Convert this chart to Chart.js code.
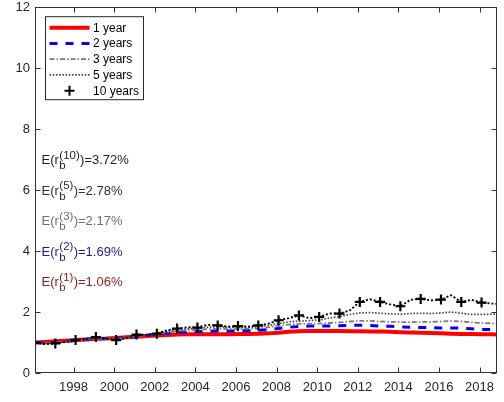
<!DOCTYPE html>
<html><head><meta charset="utf-8">
<script src="https://cdn.jsdelivr.net/npm/chart.js@4.4.1/dist/chart.umd.min.js"></script>
<style>html,body{margin:0;padding:0;background:#fff}#wrap{width:504px;height:402px}</style>
</head><body><div id="wrap"><canvas id="c" width="504" height="402"></canvas></div>
<script>
const years = [1996.1,1996.6,1997.1,1997.6,1998.1,1998.6,1999.1,1999.6,2000.1,2000.6,2001.1,2001.6,2002.1,2002.6,2003.1,2003.6,2004.1,2004.6,2005.1,2005.6,2006.1,2006.6,2007.1,2007.6,2008.1,2008.6,2009.1,2009.6,2010.1,2010.6,2011.1,2011.6,2012.1,2012.6,2013.1,2013.6,2014.1,2014.6,2015.1,2015.6,2016.1,2016.6,2017.1,2017.6,2018.1,2018.6,2018.85];
const r1 = [1.00,1.02,1.04,1.06,1.08,1.10,1.12,1.13,1.15,1.17,1.19,1.21,1.23,1.25,1.26,1.27,1.27,1.27,1.27,1.27,1.28,1.28,1.29,1.30,1.32,1.35,1.37,1.38,1.38,1.38,1.38,1.37,1.37,1.36,1.36,1.35,1.34,1.33,1.32,1.31,1.30,1.29,1.28,1.28,1.27,1.27,1.26];
const r2 = [1.00,0.99,1.01,1.04,1.07,1.10,1.12,1.13,1.14,1.17,1.20,1.24,1.27,1.30,1.33,1.35,1.36,1.37,1.38,1.38,1.38,1.39,1.40,1.42,1.46,1.50,1.53,1.54,1.54,1.54,1.55,1.56,1.57,1.56,1.54,1.53,1.51,1.50,1.49,1.49,1.48,1.48,1.47,1.45,1.43,1.43,1.43];
const r3 = [0.99,0.98,1.00,1.03,1.06,1.10,1.13,1.13,1.13,1.16,1.21,1.25,1.28,1.33,1.37,1.40,1.41,1.44,1.45,1.44,1.44,1.45,1.46,1.50,1.55,1.59,1.61,1.62,1.62,1.64,1.66,1.69,1.71,1.71,1.69,1.68,1.67,1.67,1.68,1.68,1.69,1.71,1.69,1.66,1.64,1.63,1.63];
const r5 = [0.98,0.96,0.98,1.02,1.06,1.10,1.14,1.13,1.12,1.16,1.22,1.26,1.30,1.38,1.42,1.45,1.46,1.50,1.52,1.50,1.50,1.50,1.52,1.56,1.62,1.68,1.70,1.72,1.74,1.80,1.85,1.92,1.97,1.98,1.96,1.94,1.93,1.95,1.96,1.95,1.97,2.00,1.96,1.92,1.92,1.93,1.93];
const r10 = [0.99,0.95,0.97,1.02,1.08,1.12,1.18,1.13,1.08,1.15,1.26,1.25,1.29,1.40,1.46,1.50,1.49,1.58,1.56,1.52,1.54,1.52,1.56,1.62,1.73,1.80,1.89,1.80,1.84,1.95,1.95,2.05,2.33,2.42,2.33,2.25,2.19,2.40,2.43,2.38,2.41,2.55,2.33,2.40,2.31,2.28,2.27];
const markerYears = [1996.1,1997.1,1998.1,1999.1,2000.1,2001.1,2002.1,2003.1,2004.1,2005.1,2006.1,2007.1,2008.1,2009.1,2010.1,2011.1,2012.1,2013.1,2014.1,2015.1,2016.1,2017.1,2018.1];
const xTickYears = [1998,2000,2002,2004,2006,2008,2010,2012,2014,2016,2018];
const yTickValues = [0,2,4,6,8,10,12];
const seriesNames = ['1 year','2 years','3 years','5 years','10 years'];
const annoSup = ['(10)','(5)','(3)','(2)','(1)'];
const annoVal = ['3.72%','2.78%','2.17%','1.69%','1.06%'];
const annoY = [7,6,5,4,3];
const annoColors = ['#1e1e1e','#303030','#6e6e6e','#1c1c96','#8e1a1a'];

const pts = arr => arr.map((v,i)=>({x:years[i], y:v}));
const FONT = "'Liberation Sans', Arial, Helvetica, sans-serif";

const styles = [
  {color:'#ff0000', width:4, dash:[]},
  {color:'#0000ff', width:3, dash:[8,8]},
  {color:'#7a7a7a', width:1.8, dash:[5,2,1.5,2]},
  {color:'#4a4a4a', width:1.7, dash:[1.6,1.6]},
  {color:'#000000', width:1.9, dash:[2,2]}
];

const frame = {
  id:'frame',
  afterDatasetsDraw(chart){
    const {ctx, chartArea:a, scales:{x, y}} = chart;
    ctx.save();
    for (let i=0;i<annoSup.length;i++){
      const x0 = x.getPixelForValue(1996.42);
      const base = y.getPixelForValue(annoY[i]) + 4.8;
      ctx.fillStyle = annoColors[i];
      ctx.textBaseline = 'alphabetic'; ctx.textAlign='left';
      ctx.font = `13px ${FONT}`;
      ctx.fillText('E(r', x0, base);
      let xx = x0 + ctx.measureText('E(r').width;
      ctx.font = `11.5px ${FONT}`;
      ctx.fillText(annoSup[i], xx+0.5, base-5.5);
      ctx.fillText('b', xx+0.5, base+5);
      const w = Math.max(ctx.measureText(annoSup[i]).width, ctx.measureText('b').width);
      xx += w + 0.8;
      ctx.font = `13px ${FONT}`;
      ctx.fillText(')=' + annoVal[i], xx, base);
    }
    const bx = a.left + 10.5, by = a.top + 9.5, bw = 98, bh = 83;
    ctx.fillStyle = '#fff';
    ctx.fillRect(bx, by, bw, bh);
    ctx.strokeStyle = '#262626'; ctx.lineWidth = 1; ctx.setLineDash([]);
    ctx.strokeRect(bx, by, bw, bh);
    for (let i=0;i<seriesNames.length;i++){
      const cy = by + 11 + 15.75*i;
      const s = styles[i];
      if (i < 4){
        ctx.beginPath();
        ctx.strokeStyle = s.color; ctx.lineWidth = s.width; ctx.setLineDash(s.dash);
        ctx.moveTo(bx+4, cy); ctx.lineTo(bx+44, cy); ctx.stroke();
      } else {
        ctx.setLineDash([]); ctx.strokeStyle='#000'; ctx.lineWidth=2;
        ctx.beginPath();
        ctx.moveTo(bx+24-5, cy); ctx.lineTo(bx+24+5, cy);
        ctx.moveTo(bx+24, cy-5); ctx.lineTo(bx+24, cy+5); ctx.stroke();
      }
      ctx.setLineDash([]);
      ctx.fillStyle = '#000'; ctx.font = `12px ${FONT}`; ctx.textBaseline='middle';
      ctx.fillText(seriesNames[i], bx+47.5, cy+0.5);
    }
    ctx.strokeStyle = '#333'; ctx.lineWidth = 1; ctx.setLineDash([]);
    const L = Math.round(a.left)+0.5, R = Math.round(a.right)-0.5, T = Math.round(a.top)+0.5, B = Math.round(a.bottom)-0.5;
    ctx.strokeRect(L, T, R-L, B-T);
    ctx.beginPath();
    for (const v of xTickYears){
      const px = Math.round(x.getPixelForValue(v))+0.5;
      ctx.moveTo(px, B); ctx.lineTo(px, B-5);
      ctx.moveTo(px, T); ctx.lineTo(px, T+5);
    }
    for (const v of yTickValues){
      const py = Math.round(y.getPixelForValue(v))+0.5;
      ctx.moveTo(L, py); ctx.lineTo(L+5, py);
      ctx.moveTo(R, py); ctx.lineTo(R-5, py);
    }
    ctx.stroke();
    ctx.restore();
  }
};

const order = [4,3,2,1,0];
const datasets = order.map(i => {
  const s = styles[i];
  const data = [r1,r2,r3,r5,r10][i];
  const ds = {
    label: seriesNames[i], data: pts(data),
    borderColor: s.color, borderWidth: s.width, borderDash: s.dash,
    backgroundColor: s.color, pointRadius: 0, tension: 0, fill: false,
    borderCapStyle: 'butt'
  };
  if (i === 4){
    ds.pointStyle = 'cross';
    ds.pointRadius = ctx => markerYears.includes(years[ctx.dataIndex]) ? 5 : 0;
    ds.pointBorderWidth = 2.2;
    ds.pointBorderColor = '#000';
  }
  return ds;
});

new Chart(document.getElementById('c'), {
  type: 'line',
  data: { datasets },
  options: {
    responsive: false, animation: false, devicePixelRatio: 1,
    layout: { padding: { top: 4, right: 3, left: 0, bottom: 0 } },
    plugins: { legend: { display: false }, tooltip: { enabled: false } },
    scales: {
      x: {
        type: 'linear', min: 1996.1, max: 2018.85,
        grid: { display: false, drawTicks: false }, border: { display: false },
        afterBuildTicks: s => { s.ticks = xTickYears.map(v => ({value: v})); },
        afterFit: s => { s.height = 29; s.paddingLeft = 0; s.paddingRight = 0; },
        ticks: { autoSkip: false, maxRotation: 0, padding: 7, color: '#262626',
          font: { size: 13, family: FONT }, callback: v => String(v) }
      },
      y: {
        min: 0, max: 12,
        grid: { display: false, drawTicks: false }, border: { display: false },
        afterBuildTicks: s => { s.ticks = yTickValues.map(v => ({value: v})); },
        afterFit: s => { s.width = 35; s.paddingTop = 0; s.paddingBottom = 0; },
        ticks: { padding: 5, color: '#262626', font: { size: 13, family: FONT }, callback: v => String(v) }
      }
    }
  },
  plugins: [frame]
});
</script>
</body></html>
